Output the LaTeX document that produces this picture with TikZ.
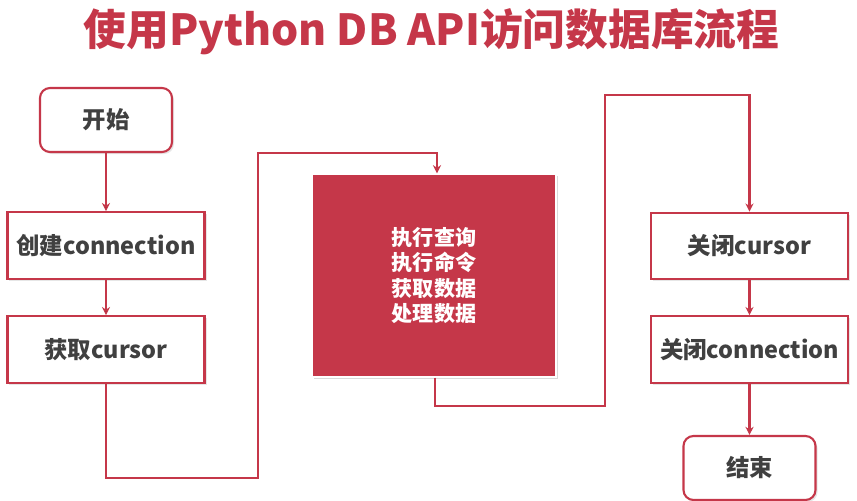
\documentclass[tikz,border=0pt]{standalone}
\usepackage{fontspec}
\setmainfont{Noto Sans CJK SC}
\usepackage{tikz}
\usetikzlibrary{ % tikz packages
    positioning,shadows,
    arrows.meta
}
\definecolor{dbred}{RGB}{197,55,73}
\definecolor{dbtext}{RGB}{64,64,64}
\tikzset{
    stepbox/.style={
        rectangle, draw=dbred, fill=white, line width=1.8pt,
        text=dbtext, font=\fontsize{20}{23}\selectfont\bfseries,
        minimum width=5.91cm, minimum height=2cm,
        drop shadow={opacity=0.2, shadow xshift=0.06cm, shadow yshift=-0.06cm}
    },
    endbox/.style={
        stepbox, rounded corners=0.3cm,
        minimum width=3.96cm, minimum height=1.92cm
    },
    workbox/.style={
        rectangle, draw=white, fill=dbred, line width=1.2pt,
        text=white, align=center,
        font=\fontsize{18}{21.5}\selectfont\bfseries,
        minimum width=7.32cm, minimum height=6.09cm,
        drop shadow={opacity=0.3, shadow xshift=0.06cm, shadow yshift=-0.06cm}
    },
    flow/.style={draw=dbred, line width=1.8pt, -{Stealth[length=7pt,width=7pt]}}
}

\begin{document}
\begin{tikzpicture}[node distance=3cm,on grid]
            \useasboundingbox (0,0) rectangle (25.71,-15);

            \node[text=dbred, font=\fontsize{36.5}{40}\selectfont\bfseries] (title)
                at (12.95,-0.95) {使用Python DB API访问数据库流程};

            \node[endbox] (start) at (3.18,-3.6) {开始};
            \node[stepbox] (conn) [below=3.765cm of start] {创建connection};
            \node[stepbox] (cur) [below=3.12cm of conn] {获取cursor};

            \node[workbox] (query) at (13.02,-8.265)
                {执行查询\\执行命令\\获取数据\\处理数据};

            \node[stepbox] (closecur) at (22.485,-7.38) {关闭cursor};
            \node[stepbox] (closeconn) [below=3.105cm of closecur] {关闭connection};
            \node[endbox] (end) [below=3.555cm of closeconn] {结束};

            \coordinate (b1) at (7.74,-14.34);
            \coordinate (b2) at (7.74,-4.59);
            \coordinate (c1) at (18.15,-12.18);
            \coordinate (c2) at (18.15,-2.85);

            \path[flow]
                (start) edge (conn)
                (conn) edge (cur)
                (closecur) edge (closeconn)
                (closeconn) edge (end);
            \draw[flow] (cur.south) |- (b1) -- (b2) -| ([xshift=0.09cm]query.north);
            \draw[flow] ([xshift=0.03cm]query.south) |- (c1) -- (c2) -| (closecur.north);
        \end{tikzpicture}
\end{document}
